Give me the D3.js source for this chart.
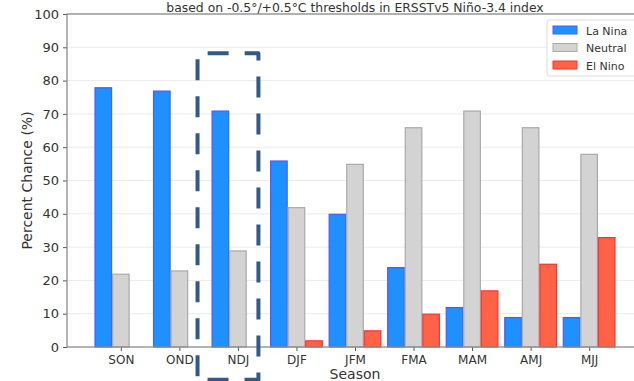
<!DOCTYPE html>
<html><head><meta charset="utf-8">
<script src="https://cdn.jsdelivr.net/npm/d3@7"></script>
<style>body{margin:0;background:#fff;overflow:hidden}svg{display:block}</style>
</head><body>
<script>
const seasons = ["SON","OND","NDJ","DJF","JFM","FMA","MAM","AMJ","MJJ"];
const laNina  = [78,77,71,56,40,24,12,9,9];
const neutral = [22,23,29,42,55,66,71,66,58];
const elNino  = [0,0,0,2,5,10,17,25,33];
const yTicks = [0,10,20,30,40,50,60,70,80,90,100];
const seriesNames = ["La Nina","Neutral","El Nino"];
const titleText = "based on -0.5°/+0.5°C thresholds in ERSSTv5 Niño-3.4 index";
const highlight = "NDJ";

const W=634,H=381;
const m={l:67,r:643,t:14,b:347};
const svg=d3.select("body").append("svg").attr("width",W).attr("height",H);
const font="DejaVu Sans, sans-serif";

const x=d3.scaleLinear().domain([-0.92,8.92]).range([m.l,m.r]);
const y=d3.scaleLinear().domain([0,100]).range([m.b,m.t]);
const bw=0.3;

// grid
svg.append("g").selectAll("line").data(yTicks.slice(1)).join("line")
  .attr("x1",m.l).attr("x2",m.r).attr("y1",d=>y(d)).attr("y2",d=>y(d))
  .attr("stroke","#ebebeb").attr("stroke-width",1);

const series=[
  {name:seriesNames[0],vals:laNina,off:-1,fill:"#1e90ff",stroke:"#4a5cff"},
  {name:seriesNames[1],vals:neutral,off:0,fill:"#d3d3d3",stroke:"#a9a9a9"},
  {name:seriesNames[2],vals:elNino,off:1,fill:"#ff6347",stroke:"#ff3030"}
];
series.forEach(s=>{
  svg.append("g").selectAll("rect").data(s.vals).join("rect")
    .attr("x",(d,i)=>x(i+s.off*bw-bw/2)+0.5)
    .attr("width",x(bw)-x(0)-1)
    .attr("y",d=>y(d)+0.5)
    .attr("height",d=>Math.max(0,y(0)-y(d)-0.5))
    .attr("fill",s.fill).attr("stroke",s.stroke).attr("stroke-width",1.2);
});

// axes
const yAx=d3.axisLeft(y).tickValues(yTicks).tickSize(4).tickPadding(4);
const gy=svg.append("g").attr("transform",`translate(${m.l},0)`).call(yAx);
gy.select(".domain").remove();
gy.selectAll("line").attr("stroke","#555");
gy.selectAll("text").attr("font-family",font).attr("font-size",13).attr("fill","#333");

const xAx=d3.axisBottom(x).tickValues(d3.range(seasons.length)).tickFormat(i=>seasons[i]).tickSize(4).tickPadding(4);
const gx=svg.append("g").attr("transform",`translate(0,${m.b})`).call(xAx);
gx.select(".domain").remove();
gx.selectAll("line").attr("stroke","#555");
gx.selectAll("text").attr("font-family",font).attr("font-size",12).attr("fill","#333");

// spines
svg.append("rect").attr("x",m.l).attr("y",m.t).attr("width",m.r-m.l).attr("height",m.b-m.t)
  .attr("fill","none").attr("stroke","#8c8c8c").attr("stroke-width",1.3);

// highlight dashed box around NDJ
const hi=seasons.indexOf(highlight);
const bx0=x(hi-0.69), bx1=x(hi+0.35), by0=y(88.2), by1=y(-9.8);
svg.append("path")
  .attr("d",`M${bx0},${by1}L${bx1},${by1}L${bx1},${by0}L${bx0},${by0}Z`)
  .attr("fill","none").attr("stroke","#335a87").attr("stroke-width",4)
  .attr("stroke-linejoin","round")
  .attr("stroke-dasharray","21,16").attr("stroke-dashoffset",-10);

// labels
svg.append("text").attr("x",(m.l+m.r)/2).attr("y",11.5).attr("text-anchor","middle")
  .attr("font-family",font).attr("font-size",12.4).attr("fill","#333").text(titleText);
svg.append("text").attr("x",(m.l+m.r)/2).attr("y",379).attr("text-anchor","middle")
  .attr("font-family",font).attr("font-size",14).attr("fill","#333").text("Season");
svg.append("text").attr("transform",`translate(32,${(m.t+m.b)/2}) rotate(-90)`).attr("text-anchor","middle")
  .attr("font-family",font).attr("font-size",14).attr("fill","#333").text("Percent Chance (%)");

// legend
const lg=svg.append("g").attr("transform","translate(547,20)");
lg.append("rect").attr("x",0).attr("y",0).attr("width",100).attr("height",56).attr("rx",2)
  .attr("fill","#fff").attr("fill-opacity",0.9).attr("stroke","#ddd");
series.forEach((s,i)=>{
  lg.append("rect").attr("x",6).attr("y",6+i*17.5).attr("width",24).attr("height",8)
    .attr("fill",s.fill).attr("stroke",s.stroke).attr("stroke-width",1);
  lg.append("text").attr("x",39).attr("y",14.5+i*17.5).attr("font-family",font).attr("font-size",11)
    .attr("fill","#333").text(s.name);
});
</script>
</body></html>
